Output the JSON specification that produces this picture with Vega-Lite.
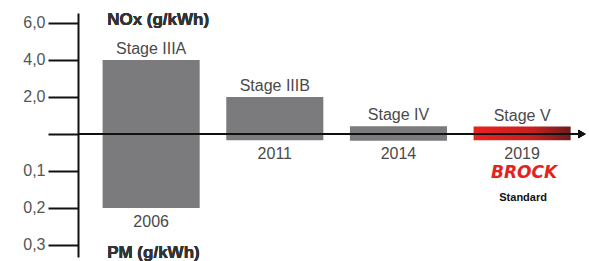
{
  "$schema": "https://vega.github.io/schema/vega-lite/v6.json",
  "width": 504,
  "height": 244,
  "autosize": "none",
  "padding": {"left": 78, "top": 13, "right": 7, "bottom": 4},
  "background": "white",
  "config": {
    "view": {"stroke": null},
    "text": {"font": "Liberation Sans"},
    "axis": {"labelFont": "Liberation Sans"}
  },
  "data": {
    "values": [
      {"stage": "Stage IIIA", "year": "2006", "nox": 4.0, "pm": 0.2},
      {"stage": "Stage IIIB", "year": "2011", "nox": 2.0, "pm": 0.017},
      {"stage": "Stage IV", "year": "2014", "nox": 0.42, "pm": 0.018},
      {"stage": "Stage V", "year": "2019", "nox": 0.4, "pm": 0.017}
    ]
  },
  "layer": [
    {
      "layer": [
        {
          "transform": [{"filter": "datum.stage != 'Stage V'"}],
          "mark": {"type": "bar", "color": "#7b7b7d"},
          "encoding": {
            "x": {"field": "stage", "type": "nominal", "axis": null,
                  "scale": {"domain": ["Stage IIIA", "Stage IIIB", "Stage IV", "Stage V"], "range": [24.6, 492.65], "paddingInner": 0.215, "paddingOuter": 0}},
            "y": {"field": "nox", "type": "quantitative",
                  "scale": {"domain": [-6.65, 6.54], "nice": false, "zero": false},
                  "axis": {
                    "values": [6, 4, 2, 0, -2, -4, -6],
                    "labelExpr": "datum.value > 0 ? replace(format(datum.value, '.1f'), '.', ',') : (datum.value < 0 ? replace(format(-datum.value / 20, '.1f'), '.', ',') : '')",
                    "title": null,
                    "grid": false,
                    "domainColor": "#111111",
                    "domainWidth": 2,
                    "tickColor": "#111111",
                    "tickWidth": 2,
                    "tickSize": 30,
                    "labelFontSize": 16,
                    "labelColor": "#555555",
                    "labelPadding": 3
                  }}
          }
        },
        {
          "transform": [{"filter": "datum.stage == 'Stage V'"}],
          "mark": {"type": "bar", "color": {"gradient": "linear", "x1": 0, "x2": 1, "y1": 0, "y2": 0,
                    "stops": [{"offset": 0, "color": "#e8231e"}, {"offset": 0.6, "color": "#c8201f"}, {"offset": 1, "color": "#6d1c1f"}]}},
          "encoding": {
            "x": {"field": "stage", "type": "nominal",
                  "scale": {"domain": ["Stage IIIA", "Stage IIIB", "Stage IV", "Stage V"], "range": [24.6, 492.65], "paddingInner": 0.215, "paddingOuter": 0}},
            "y": {"field": "nox", "type": "quantitative"}
          }
        },
        {
          "mark": {"type": "text", "baseline": "alphabetic", "dy": -6, "fontSize": 16, "color": "#4a4a4a"},
          "encoding": {
            "x": {"field": "stage", "type": "nominal",
                  "scale": {"domain": ["Stage IIIA", "Stage IIIB", "Stage IV", "Stage V"], "range": [24.6, 492.65], "paddingInner": 0.215, "paddingOuter": 0}},
            "y": {"field": "nox", "type": "quantitative"},
            "text": {"field": "stage"}
          }
        },
        {
          "mark": {"type": "text", "align": "left", "baseline": "alphabetic", "dx": -44, "fontSize": 17, "fontWeight": "bold", "color": "#333333"},
          "encoding": {
            "x": {"datum": "Stage IIIA", "type": "nominal"},
            "y": {"datum": 5.9, "type": "quantitative"},
            "text": {"value": "NOx (g/kWh)"}
          }
        },
        {
          "mark": {"type": "text", "align": "left", "baseline": "alphabetic", "dx": -44, "fontSize": 17, "fontWeight": "bold", "color": "#333333"},
          "encoding": {
            "x": {"datum": "Stage IIIA", "type": "nominal"},
            "y": {"datum": -6.7, "type": "quantitative"},
            "text": {"value": "PM (g/kWh)"}
          }
        }
      ]
    },
    {
      "layer": [
        {
          "transform": [{"filter": "datum.stage != 'Stage V'"}],
          "mark": {"type": "bar", "color": "#7b7b7d"},
          "encoding": {
            "x": {"field": "stage", "type": "nominal",
                  "scale": {"domain": ["Stage IIIA", "Stage IIIB", "Stage IV", "Stage V"], "range": [24.6, 492.65], "paddingInner": 0.215, "paddingOuter": 0}},
            "y": {"field": "pm", "type": "quantitative",
                  "scale": {"domain": [-0.327, 0.3324], "reverse": true, "nice": false, "zero": false},
                  "axis": null}
          }
        },
        {
          "transform": [{"filter": "datum.stage == 'Stage V'"}],
          "mark": {"type": "bar", "color": {"gradient": "linear", "x1": 0, "x2": 1, "y1": 0, "y2": 0,
                    "stops": [{"offset": 0, "color": "#e8231e"}, {"offset": 0.6, "color": "#c8201f"}, {"offset": 1, "color": "#6d1c1f"}]}},
          "encoding": {
            "x": {"field": "stage", "type": "nominal",
                  "scale": {"domain": ["Stage IIIA", "Stage IIIB", "Stage IV", "Stage V"], "range": [24.6, 492.65], "paddingInner": 0.215, "paddingOuter": 0}},
            "y": {"field": "pm", "type": "quantitative"}
          }
        },
        {
          "mark": {"type": "text", "baseline": "alphabetic", "dy": 18.5, "fontSize": 16, "color": "#4a4a4a"},
          "encoding": {
            "x": {"field": "stage", "type": "nominal",
                  "scale": {"domain": ["Stage IIIA", "Stage IIIB", "Stage IV", "Stage V"], "range": [24.6, 492.65], "paddingInner": 0.215, "paddingOuter": 0}},
            "y": {"field": "pm", "type": "quantitative"},
            "text": {"field": "year"}
          }
        },
        {
          "transform": [{"filter": "datum.stage == 'Stage V'"}],
          "mark": {"type": "text", "baseline": "alphabetic", "dy": 38, "dx": 2, "fontSize": 17, "fontWeight": "bold", "fontStyle": "italic", "font": "DejaVu Sans", "color": "#e3231c"},
          "encoding": {
            "x": {"field": "stage", "type": "nominal"},
            "y": {"field": "pm", "type": "quantitative"},
            "text": {"value": "BROCK"}
          }
        },
        {
          "transform": [{"filter": "datum.stage == 'Stage V'"}],
          "mark": {"type": "text", "baseline": "alphabetic", "dy": 61, "dx": 1, "fontSize": 11, "fontWeight": "bold", "color": "#111111"},
          "encoding": {
            "x": {"field": "stage", "type": "nominal"},
            "y": {"field": "pm", "type": "quantitative"},
            "text": {"value": "Standard"}
          }
        },
        {
          "mark": {"type": "rule", "color": "#111111", "strokeWidth": 2},
          "encoding": {
            "y": {"datum": 0, "type": "quantitative"}
          }
        },
        {
          "mark": {"type": "point", "shape": "triangle-right", "filled": true, "color": "#111111", "opacity": 1, "size": 70},
          "encoding": {
            "x": {"value": "width"},
            "y": {"datum": 0, "type": "quantitative"}
          }
        }
      ]
    }
  ],
  "resolve": {"scale": {"y": "independent"}, "axis": {"y": "independent"}}
}
